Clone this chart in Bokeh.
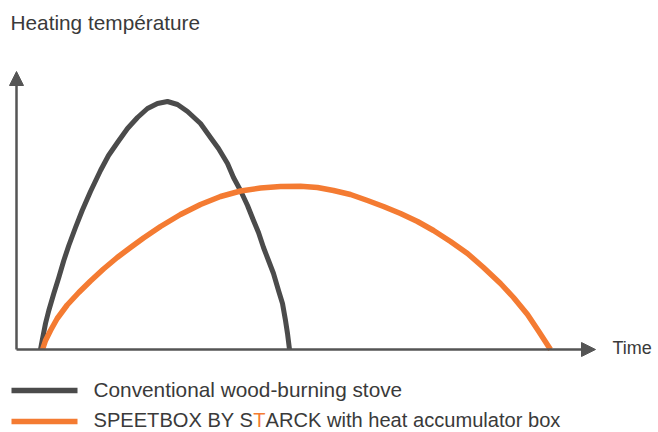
from bokeh.plotting import figure
from bokeh.models import Range1d, Label, Arrow, NormalHead
from bokeh.embed import file_html
from bokeh.resources import INLINE

# ---- data (time vs heating temperature, arbitrary units) ----
stove_time = [24, 25.7, 29, 32.3, 37.3, 42.3, 47.3, 52.3, 59, 65.7,
              74, 84, 92, 101, 111, 121, 131, 141, 151, 161,
              171, 184, 194, 202, 211, 217, 224, 231, 237, 242,
              247, 252, 257, 262, 266, 269, 271, 273]
stove_temp = [0, 9, 26, 39, 56, 72, 89, 104, 122, 139,
              158, 179, 194, 207, 221, 232, 241, 246, 248, 245,
              238, 226, 212, 201, 186, 172, 159, 144, 129, 117,
              102, 89, 76, 59, 46, 29, 16, 0]

speetbox_time = [26, 29, 34, 40.7, 50.7, 62.3, 74, 87, 100.7, 114,
                 127, 144, 164, 184, 204, 224, 244, 264, 284, 301,
                 317, 334, 351, 367, 384, 401, 417, 434, 451, 467,
                 484, 497, 511, 522, 534]
speetbox_temp = [0, 9, 19, 31, 44.5, 57, 68.5, 80.5, 92, 102,
                 111.5, 123, 135, 145, 153, 158.5, 161.5, 163, 163.3, 162,
                 159, 155, 149, 143, 136, 128, 119, 108, 96, 82,
                 66, 52, 35, 18.5, 0]

y_axis_label = "Heating température"
x_axis_label = "Time"
series_label_1 = "Conventional wood-burning stove"
series_label_2 = ["SPEETBOX BY S", "T", "ARCK with heat accumulator box"]

axis_max_time = 579
axis_max_temp = 278

# ---- styles ----
GREY = "#4b4b4b"
AXIS = "#555555"
ORANGE = "#f47b32"
TEXT = "#3a3a3a"
FONT = "Liberation Sans"

p = figure(width=658, height=432, output_backend="svg", toolbar_location=None,
           x_range=Range1d(-16, 642), y_range=Range1d(-83, 349),
           x_axis_location=None, y_axis_location=None, min_border=0)
p.grid.visible = False
p.outline_line_color = None
p.background_fill_color = "white"
p.border_fill_color = "white"

# axes with arrow heads
p.add_layout(Arrow(end=NormalHead(size=14, fill_color=AXIS, line_color=AXIS, line_width=1),
                   x_start=0, y_start=0, x_end=0, y_end=axis_max_temp,
                   line_color=AXIS, line_width=2.5))
p.add_layout(Arrow(end=NormalHead(size=14, fill_color=AXIS, line_color=AXIS, line_width=1),
                   x_start=0, y_start=0, x_end=axis_max_time, y_end=0,
                   line_color=AXIS, line_width=2.5))

# curves
p.line(stove_time, stove_temp, line_width=5, line_color=GREY, line_join="round")
p.line(speetbox_time, speetbox_temp, line_width=5.5, line_color=ORANGE, line_join="round")

# axis labels
p.add_layout(Label(x=-6, y=327, text=y_axis_label, text_font=FONT, text_font_size="20.8px",
                   text_color=TEXT, text_baseline="alphabetic", text_align="left"))
p.add_layout(Label(x=596, y=2, text=x_axis_label, text_font=FONT, text_font_size="18px",
                   text_color=TEXT, text_baseline="alphabetic", text_align="left"))

# legend
p.add_layout(Arrow(end=None, x_start=-5, y_start=-41, x_end=61, y_end=-41,
                   line_color=GREY, line_width=5.5))
p.add_layout(Arrow(end=None, x_start=-5, y_start=-72, x_end=61, y_end=-72,
                   line_color=ORANGE, line_width=5.5))
p.add_layout(Label(x=77, y=-39.5, text=series_label_1, text_font=FONT, text_font_size="20.8px",
                   text_color=TEXT, text_baseline="alphabetic", text_align="left"))
fs = 20.1
x0 = 77
w1 = 7.948 * fs
w2 = 0.611 * fs
for txt, xx, col in [(series_label_2[0], x0, TEXT),
                     (series_label_2[1], x0 + w1, ORANGE),
                     (series_label_2[2], x0 + w1 + w2, TEXT)]:
    p.add_layout(Label(x=xx, y=-70.5, text=txt, text_font=FONT, text_font_size=f"{fs}px",
                       text_color=col, text_baseline="alphabetic", text_align="left"))

open("out.html", "w").write(file_html(p, INLINE))
